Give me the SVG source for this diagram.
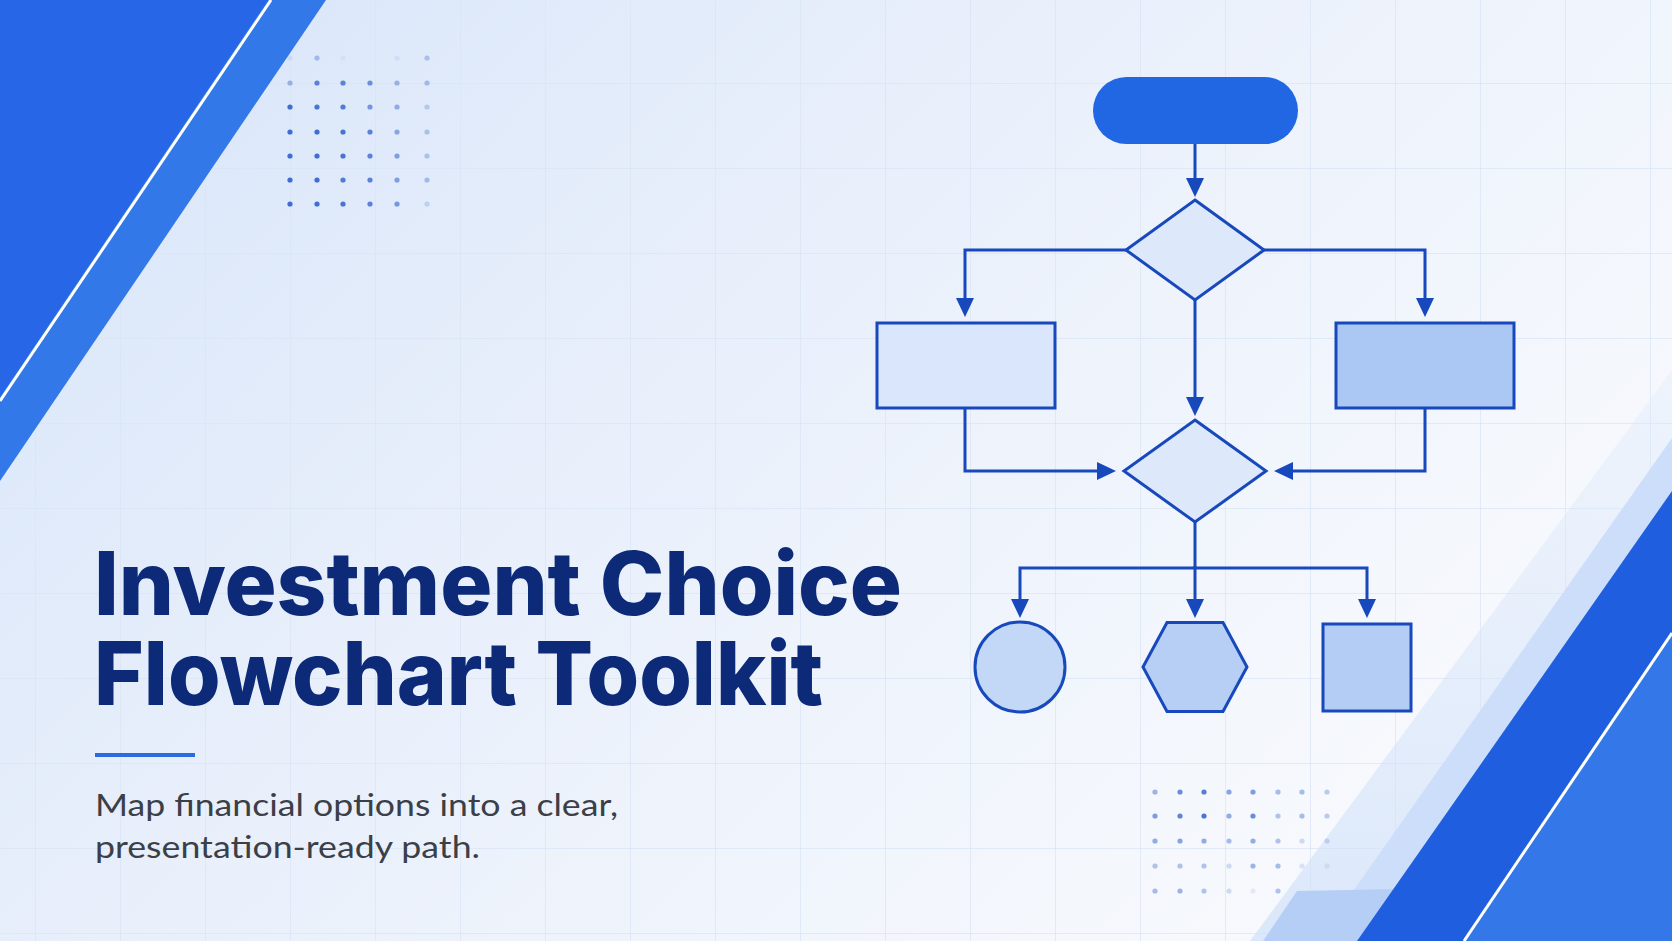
<svg xmlns="http://www.w3.org/2000/svg" width="1672" height="941" viewBox="0 0 1672 941">
  <defs>
    <linearGradient id="bg" x1="0" y1="0" x2="1" y2="0.55">
      <stop offset="0" stop-color="#D6E4F9"/>
      <stop offset="0.45" stop-color="#E8EFFB"/>
      <stop offset="1" stop-color="#F7F9FD"/>
    </linearGradient>
    <linearGradient id="softBand" x1="0" y1="0" x2="0" y2="1">
      <stop offset="0" stop-color="#DCE8FA" stop-opacity="0.3"/>
      <stop offset="1" stop-color="#CFE0F9" stop-opacity="0.7"/>
    </linearGradient>
    <pattern id="grid" patternUnits="userSpaceOnUse" x="35" y="-2" width="85" height="85">
      <path d="M0,0.5 H85 M0.5,0 V85" fill="none" stroke="#D9E4F4" stroke-width="1" opacity="0.7"/>
    </pattern>
    <marker id="arrow" markerUnits="userSpaceOnUse" markerWidth="20" markerHeight="20" refX="15" refY="9" orient="auto">
      <path d="M0,0 L19,9 L0,18 Z" fill="#1749BD"/>
    </marker>
    <style>
      .node { stroke: #1749BD; stroke-width: 3; }
      .edge { fill: none; stroke: #1749BD; stroke-width: 3; marker-end: url(#arrow); }
      .line { fill: none; stroke: #1749BD; stroke-width: 3; }
      .title { font-family: Inter, "Liberation Sans", sans-serif; font-weight: 800; font-size: 88px; fill: #0C2A78; }
      .sub { font-family: Lato, "Open Sans", "Liberation Sans", sans-serif; font-weight: 400; font-size: 31px; fill: #3B3F48; }
      .dot { fill: #2E5FCB; }
    </style>
  </defs>

  <!-- background -->
  <rect width="1672" height="941" fill="url(#bg)"/>
  <rect width="1672" height="941" fill="url(#grid)"/>

  <!-- top-left decoration -->
  <g id="deco-top-left">
    <polygon points="0,0 326,0 0,481" fill="#3378E9"/>
    <polygon points="0,0 268,0 0,397" fill="#2666E7"/>
    <line x1="271" y1="0" x2="0" y2="401" stroke="#FFFFFF" stroke-width="3"/>
  </g>

  <!-- top-left dots -->
  <g id="dots-top-left">
    <circle class="dot" cx="290" cy="58" r="2.6" opacity="0.1"/>
    <circle class="dot" cx="317" cy="58" r="2.6" opacity="0.35"/>
    <circle class="dot" cx="343" cy="58" r="2.6" opacity="0.05"/>
    <circle class="dot" cx="397" cy="58" r="2.6" opacity="0.08"/>
    <circle class="dot" cx="427" cy="58" r="2.6" opacity="0.3"/>

    <circle class="dot" cx="290" cy="83" r="2.6" opacity="0.4"/>
    <circle class="dot" cx="317" cy="83" r="2.6" opacity="0.75"/>
    <circle class="dot" cx="343" cy="83" r="2.6" opacity="0.75"/>
    <circle class="dot" cx="370" cy="83" r="2.6" opacity="0.65"/>
    <circle class="dot" cx="397" cy="83" r="2.6" opacity="0.4"/>
    <circle class="dot" cx="427" cy="83" r="2.6" opacity="0.35"/>

    <circle class="dot" cx="290" cy="107" r="2.6" opacity="0.9"/>
    <circle class="dot" cx="317" cy="107" r="2.6" opacity="0.85"/>
    <circle class="dot" cx="343" cy="107" r="2.6" opacity="0.8"/>
    <circle class="dot" cx="370" cy="107" r="2.6" opacity="0.6"/>
    <circle class="dot" cx="397" cy="107" r="2.6" opacity="0.45"/>
    <circle class="dot" cx="427" cy="107" r="2.6" opacity="0.25"/>

    <circle class="dot" cx="290" cy="132" r="2.6" opacity="0.9"/>
    <circle class="dot" cx="317" cy="132" r="2.6" opacity="0.9"/>
    <circle class="dot" cx="343" cy="132" r="2.6" opacity="0.85"/>
    <circle class="dot" cx="370" cy="132" r="2.6" opacity="0.75"/>
    <circle class="dot" cx="397" cy="132" r="2.6" opacity="0.5"/>
    <circle class="dot" cx="427" cy="132" r="2.6" opacity="0.3"/>

    <circle class="dot" cx="290" cy="156" r="2.6" opacity="0.9"/>
    <circle class="dot" cx="317" cy="156" r="2.6" opacity="0.9"/>
    <circle class="dot" cx="343" cy="156" r="2.6" opacity="0.85"/>
    <circle class="dot" cx="370" cy="156" r="2.6" opacity="0.75"/>
    <circle class="dot" cx="397" cy="156" r="2.6" opacity="0.55"/>
    <circle class="dot" cx="427" cy="156" r="2.6" opacity="0.3"/>

    <circle class="dot" cx="290" cy="180" r="2.6" opacity="0.9"/>
    <circle class="dot" cx="317" cy="180" r="2.6" opacity="0.9"/>
    <circle class="dot" cx="343" cy="180" r="2.6" opacity="0.8"/>
    <circle class="dot" cx="370" cy="180" r="2.6" opacity="0.75"/>
    <circle class="dot" cx="397" cy="180" r="2.6" opacity="0.55"/>
    <circle class="dot" cx="427" cy="180" r="2.6" opacity="0.35"/>

    <circle class="dot" cx="290" cy="204" r="2.6" opacity="0.9"/>
    <circle class="dot" cx="317" cy="204" r="2.6" opacity="0.9"/>
    <circle class="dot" cx="343" cy="204" r="2.6" opacity="0.85"/>
    <circle class="dot" cx="370" cy="204" r="2.6" opacity="0.75"/>
    <circle class="dot" cx="397" cy="204" r="2.6" opacity="0.6"/>
    <circle class="dot" cx="427" cy="204" r="2.6" opacity="0.2"/>
  </g>

  <!-- bottom-right decoration -->
  <g id="deco-bottom-right">
    <polygon points="1250,941 1672,370 1672,941" fill="url(#softBand)"/>
    <polygon points="1318,941 1672,438 1672,941" fill="#CCDEF9"/>
    <polygon points="1263,941 1297,891 1400,889 1357,941" fill="#B5CEF6"/>
    <polygon points="1357,941 1672,491 1672,941" fill="#1F5FDF"/>
    <polygon points="1465,941 1672,635 1672,941" fill="#3377E9"/>
    <line x1="1464" y1="941" x2="1672" y2="633" stroke="#FFFFFF" stroke-width="3"/>
  </g>

  <!-- bottom-right dots -->
  <g id="dots-bottom-right">
    <circle class="dot" cx="1155" cy="792" r="2.6" opacity="0.45"/>
    <circle class="dot" cx="1180" cy="792" r="2.6" opacity="0.7"/>
    <circle class="dot" cx="1204" cy="792" r="2.6" opacity="0.8"/>
    <circle class="dot" cx="1229" cy="792" r="2.6" opacity="0.55"/>
    <circle class="dot" cx="1253" cy="792" r="2.6" opacity="0.6"/>
    <circle class="dot" cx="1278" cy="792" r="2.6" opacity="0.4"/>
    <circle class="dot" cx="1302" cy="792" r="2.6" opacity="0.4"/>
    <circle class="dot" cx="1327" cy="792" r="2.6" opacity="0.3"/>

    <circle class="dot" cx="1155" cy="816" r="2.6" opacity="0.6"/>
    <circle class="dot" cx="1180" cy="816" r="2.6" opacity="0.75"/>
    <circle class="dot" cx="1204" cy="816" r="2.6" opacity="0.85"/>
    <circle class="dot" cx="1229" cy="816" r="2.6" opacity="0.5"/>
    <circle class="dot" cx="1253" cy="816" r="2.6" opacity="0.7"/>
    <circle class="dot" cx="1278" cy="816" r="2.6" opacity="0.35"/>
    <circle class="dot" cx="1302" cy="816" r="2.6" opacity="0.4"/>
    <circle class="dot" cx="1327" cy="816" r="2.6" opacity="0.3"/>

    <circle class="dot" cx="1155" cy="841" r="2.6" opacity="0.5"/>
    <circle class="dot" cx="1180" cy="841" r="2.6" opacity="0.55"/>
    <circle class="dot" cx="1204" cy="841" r="2.6" opacity="0.5"/>
    <circle class="dot" cx="1229" cy="841" r="2.6" opacity="0.4"/>
    <circle class="dot" cx="1253" cy="841" r="2.6" opacity="0.5"/>
    <circle class="dot" cx="1278" cy="841" r="2.6" opacity="0.35"/>
    <circle class="dot" cx="1302" cy="841" r="2.6" opacity="0.2"/>
    <circle class="dot" cx="1327" cy="841" r="2.6" opacity="0.2"/>

    <circle class="dot" cx="1155" cy="866" r="2.6" opacity="0.35"/>
    <circle class="dot" cx="1180" cy="866" r="2.6" opacity="0.35"/>
    <circle class="dot" cx="1204" cy="866" r="2.6" opacity="0.35"/>
    <circle class="dot" cx="1229" cy="866" r="2.6" opacity="0.2"/>
    <circle class="dot" cx="1253" cy="866" r="2.6" opacity="0.45"/>
    <circle class="dot" cx="1278" cy="866" r="2.6" opacity="0.4"/>
    <circle class="dot" cx="1302" cy="866" r="2.6" opacity="0.15"/>
    <circle class="dot" cx="1327" cy="866" r="2.6" opacity="0.1"/>

    <circle class="dot" cx="1155" cy="891" r="2.6" opacity="0.4"/>
    <circle class="dot" cx="1180" cy="891" r="2.6" opacity="0.45"/>
    <circle class="dot" cx="1204" cy="891" r="2.6" opacity="0.35"/>
    <circle class="dot" cx="1229" cy="891" r="2.6" opacity="0.2"/>
    <circle class="dot" cx="1253" cy="891" r="2.6" opacity="0.1"/>
    <circle class="dot" cx="1278" cy="891" r="2.6" opacity="0.35"/>
  </g>

  <!-- connectors -->
  <g id="connectors">
    <path class="edge" d="M1195,144 V193"/>
    <path class="edge" d="M1126,250 H965 V313"/>
    <path class="edge" d="M1264,250 H1425 V313"/>
    <path class="edge" d="M1195,300 V412"/>
    <path class="edge" d="M965,408 V471 H1112"/>
    <path class="edge" d="M1425,408 V471 H1278"/>
    <path class="line" d="M1195,522 V568"/>
    <path class="edge" d="M1195,566 V614"/>
    <path class="edge" d="M1195,568 H1020 V614"/>
    <path class="edge" d="M1195,568 H1367 V614"/>
  </g>

  <!-- nodes -->
  <g id="node-start">
    <rect x="1093" y="77" width="205" height="67" rx="33.5" fill="#2166E3"/>
  </g>
  <g id="node-decision-1">
    <polygon class="node" points="1195,200 1264,250 1195,300 1126,250" fill="#DDE8FA"/>
  </g>
  <g id="node-process-left">
    <rect class="node" x="877" y="323" width="178" height="85" fill="#DAE6FB"/>
  </g>
  <g id="node-process-right">
    <rect class="node" x="1336" y="323" width="178" height="85" fill="#ABC7F4"/>
  </g>
  <g id="node-decision-2">
    <polygon class="node" points="1195,420 1266,471 1195,522 1124,471" fill="#DDE8FA"/>
  </g>
  <g id="node-circle">
    <circle class="node" cx="1020" cy="667" r="45" fill="#C3D7F7"/>
  </g>
  <g id="node-hexagon">
    <polygon class="node" points="1143,667 1167,622.5 1223,622.5 1247,667 1223,711.5 1167,711.5" fill="#B7CFF5"/>
  </g>
  <g id="node-square">
    <rect class="node" x="1323" y="624" width="88" height="87" fill="#B4CDF5"/>
  </g>

  <!-- text -->
  <g id="title">
    <text class="title" x="94" y="615" textLength="808" lengthAdjust="spacingAndGlyphs">Investment Choice</text>
    <text class="title" x="94" y="705" textLength="729" lengthAdjust="spacingAndGlyphs">Flowchart Toolkit</text>
  </g>
  <rect id="accent" x="95" y="753" width="100" height="4" fill="#2B6BE0"/>
  <g id="subtitle">
    <text class="sub" x="95" y="816" textLength="523" lengthAdjust="spacingAndGlyphs">Map financial options into a clear,</text>
    <text class="sub" x="95" y="858" textLength="385" lengthAdjust="spacingAndGlyphs">presentation-ready path.</text>
  </g>
</svg>
